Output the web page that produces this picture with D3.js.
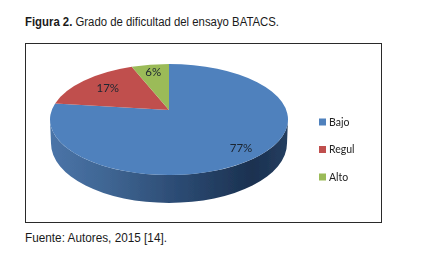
<!DOCTYPE html>
<html><head><meta charset="utf-8">
<script src="https://cdn.jsdelivr.net/npm/d3@7/dist/d3.min.js"></script>
<style>html,body{margin:0;padding:0;background:#fff}svg{display:block}</style></head>
<body><svg id="c" width="430" height="274"></svg>
<script>
const categories = ["Bajo", "Regul", "Alto"];
const values = [77, 17, 6];
const labels = ["77%", "17%", "6%"];
const colors = ["#4f81bd", "#c0504d", "#9bbb59"];

const svg = d3.select("#c");
const narrow = "'Liberation Sans',Arial,sans-serif";
const calib = "Lato,'Open Sans',sans-serif";

// page text
const title = svg.append("text").attr("x", 25).attr("y", 25.5)
  .attr("font-family", narrow).attr("font-size", 12.5).attr("fill", "#1a1a1a")
  .attr("textLength", 254).attr("lengthAdjust", "spacingAndGlyphs");
title.append("tspan").attr("font-weight", "bold").text("Figura 2.");
title.append("tspan").text(" Grado de dificultad del ensayo BATACS.");
svg.append("text").attr("x", 25).attr("y", 242)
  .attr("font-family", narrow).attr("font-size", 12.5).attr("fill", "#1a1a1a")
  .attr("textLength", 142).attr("lengthAdjust", "spacingAndGlyphs")
  .text("Fuente: Autores, 2015 [14].");

// frame
svg.append("rect").attr("x", 25.5).attr("y", 43.5).attr("width", 356).attr("height", 179)
  .attr("fill", "#fff").attr("stroke", "#2a2a2a").attr("stroke-width", 1);

const defs = svg.append("defs");
defs.append("filter").attr("id", "soft").append("feGaussianBlur").attr("stdDeviation", 0.35);
const grad = defs.append("linearGradient").attr("id", "wall");
[[0, "#4a74a8"], [0.25, "#3f6592"], [0.55, "#2b4a72"], [0.85, "#1b3150"], [1, "#243e60"]]
  .forEach(([o, c]) => grad.append("stop").attr("offset", o).attr("stop-color", c));

// pie: angles from d3.pie, placed on a tilted disc by a projective map
const cx = 169, discTop = 64, apexY = 110, discBottom = 175, rx = 119, depth = 28;
const ry = (discBottom - discTop) / 2, cy = (discTop + discBottom) / 2;
const up = apexY - discTop, down = discBottom - apexY;
const bb = (up - down) / (up + down);
const aa = up * (1 - bb);
const kk = rx * Math.sqrt(1 - bb * bb);
const project = (t, r = 1) => {
  const x = r * Math.sin(t), y = -r * Math.cos(t), w = 1 + bb * y;
  return [cx + kk * x / w, apexY + aa * y / w];
};

const pie = d3.pie().sort(null).value(d => d).startAngle(0).endAngle(2 * Math.PI);
const arcs = pie(values);

const g = svg.append("g").attr("filter", "url(#soft)");

// side wall
g.append("path")
  .attr("d", `M${cx - rx},${cy} A${rx},${ry} 0 0 0 ${cx + rx},${cy} L${cx + rx - 1},${cy + depth - 4} A${rx - 1},${ry + 4} 0 0 1 ${cx - rx + 1},${cy + depth - 4} Z`)
  .attr("fill", "url(#wall)");

// top slices
g.selectAll("path.slice").data(arcs).join("path").attr("class", "slice")
  .attr("d", d => {
    const s = project(d.startAngle), e = project(d.endAngle);
    const large = d.endAngle - d.startAngle > Math.PI ? 1 : 0;
    return `M${cx},${apexY} L${s} A${rx},${ry} 0 ${large} 1 ${e} Z`;
  })
  .attr("fill", (d, i) => colors[i]);

// data labels
const labelRadius = [0.83, 0.71, 0.82];
g.selectAll("text.val").data(arcs).join("text").attr("class", "val")
  .attr("transform", (d, i) => `translate(${project((d.startAngle + d.endAngle) / 2, labelRadius[i])})`)
  .attr("text-anchor", "middle").attr("dy", "0.35em")
  .attr("font-family", calib).attr("font-size", 11.5).attr("fill", "#1c2530")
  .text((d, i) => labels[i]);

// legend
const ly = d3.scalePoint().domain(categories).range([122, 177]);
const leg = g.selectAll("g.leg").data(categories).join("g").attr("class", "leg")
  .attr("transform", d => `translate(319,${ly(d)})`);
leg.append("rect").attr("x", 0).attr("y", -3.5).attr("width", 7).attr("height", 7)
  .attr("fill", (d, i) => colors[i]);
leg.append("text").attr("x", 10).attr("dy", "0.36em")
  .attr("font-family", calib).attr("font-size", 10.5).attr("fill", "#222").text(d => d);
</script></body></html>
